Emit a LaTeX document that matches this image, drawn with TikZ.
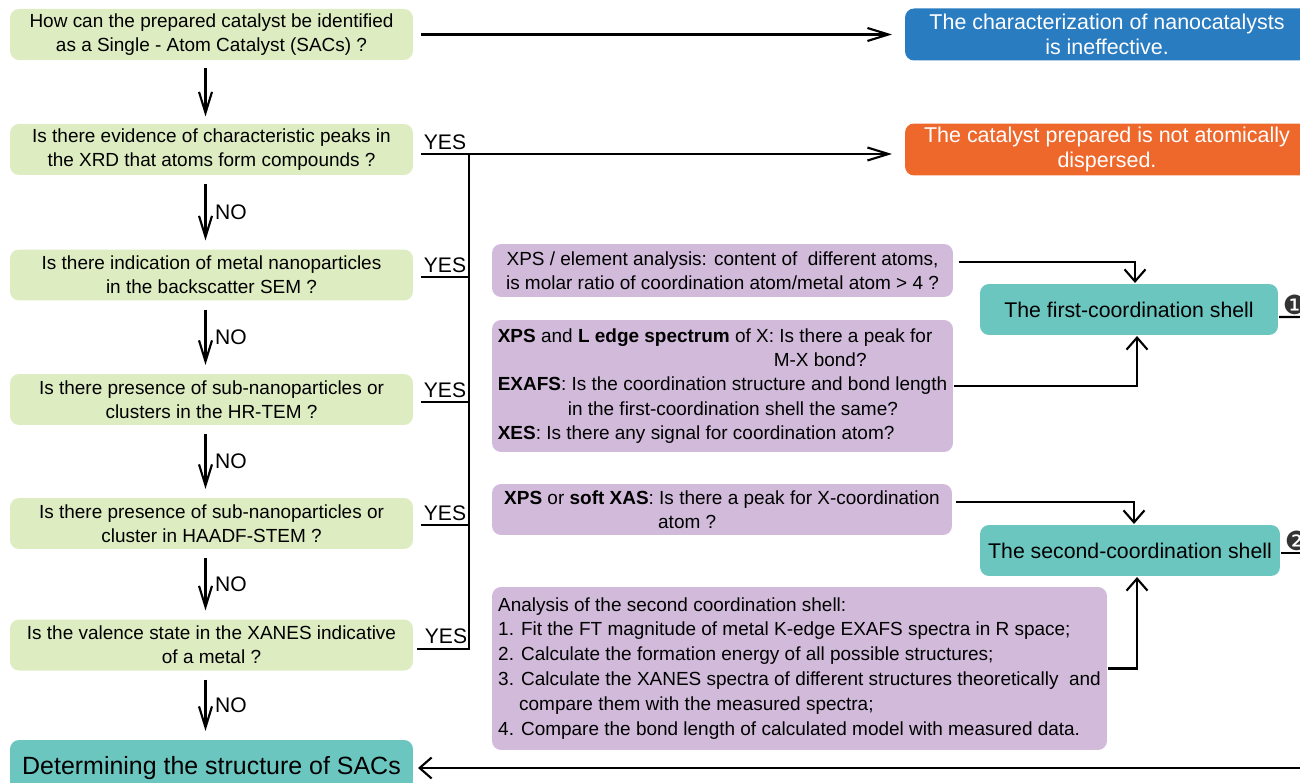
\documentclass[tikz,border=0pt]{standalone}
\usepackage{fontspec}
\setmainfont{Liberation Sans}
\newfontfamily\dingfont{DejaVu Sans}
\usetikzlibrary{arrows.meta}

\definecolor{qgreen}{RGB}{222,236,194}
\definecolor{shellteal}{RGB}{108,198,192}
\definecolor{failblue}{RGB}{42,124,193}
\definecolor{failorange}{RGB}{238,104,44}
\definecolor{probepurple}{RGB}{209,186,218}
\definecolor{markgrey}{RGB}{51,51,51}

\tikzset{
  qbox/.style={fill=qgreen, rounded corners=0.18cm, minimum width=8.06cm,
    minimum height=1.02cm, align=center, inner sep=0pt,
    font=\fontsize{10.8}{13.7}\selectfont},
  failbox/.style={rounded corners=0.18cm, minimum width=8.08cm,
    minimum height=1.04cm, align=center, inner sep=0pt, text=white,
    font=\fontsize{12.2}{14.2}\selectfont},
  probebox/.style={fill=probepurple, rounded corners=0.18cm, inner sep=0pt,
    font=\fontsize{10.8}{13.9}\selectfont},
  shellbox/.style={fill=shellteal, rounded corners=0.18cm, minimum height=1.02cm,
    inner sep=0pt, font=\fontsize{12.1}{14}\selectfont},
  answer/.style={font=\fontsize{12}{13}\selectfont, inner sep=2pt},
  longarrow/.style={->, >={Straight Barb[length=0.42cm,width=0.26cm]}, line width=1.2pt},
  shortarrow/.style={->, >={Straight Barb[length=0.24cm,width=0.42cm]}, line width=1.2pt},
}

\begin{document}
\begin{tikzpicture}[x=0.02cm, y=-0.02cm, line width=1.2pt]
  \useasboundingbox (0,0) rectangle (1300,783);
  \clip (0,0) rectangle (1300,783);

  % questions
  \node[qbox] (q1) at (211.5,34.5) {How can the prepared catalyst be identified\\as a Single - Atom Catalyst (SACs) ?};
  \node[qbox] (q2) at (211.5,149.5) {Is there evidence of characteristic peaks in\\the XRD that atoms form compounds ?};
  \node[qbox] (q3) at (211.5,275) {Is there indication of metal nanoparticles\\in the backscatter SEM ?};
  \node[qbox] (q4) at (211.5,399.5) {Is there presence of sub-nanoparticles or\\clusters in the HR-TEM ?};
  \node[qbox] (q5) at (211.5,523.5) {Is there presence of sub-nanoparticles or\\cluster in HAADF-STEM ?};
  \node[qbox] (q6) at (211.5,645) {Is the valence state in the XANES indicative\\of a metal ?};
  \node[qbox, fill=shellteal, minimum height=1.12cm, font=\fontsize{14.2}{16}\selectfont] (det) at (211.5,768) {Determining the structure of SACs};

  % outcomes
  \node[failbox, fill=failblue] (ineff) at (1107,34.5) {The characterization of nanocatalysts\\is ineffective.};
  \node[failbox, fill=failorange] (notsac) at (1107,149.5) {The catalyst prepared is not atomically\\dispersed.};

  % probes
  \node[probebox, minimum width=9.22cm, minimum height=1.06cm, align=center] (p1) at (722.5,270.5)
    {XPS / element analysis: content of\ \ different atoms,\\ is molar ratio of coordination atom/metal atom > 4 ?};
  \node[probebox, minimum width=9.22cm, minimum height=2.64cm, align=left] (p2) at (722.5,386)
    {\textbf{XPS} and \textbf{L edge spectrum} of X: Is there a peak for\\
     \hspace*{5.52cm}M-X bond?\\
     \textbf{EXAFS}: Is the coordination structure and bond length\\
     \hspace*{1.4cm}in the first-coordination shell the same?\\
     \textbf{XES}: Is there any signal for coordination atom?};
  \node[probebox, minimum width=9.2cm, minimum height=1.02cm, align=left] (p3) at (722,509.5)
    {\textbf{XPS} or \textbf{soft XAS}: Is there a peak for X-coordination\\
     \hspace*{3.08cm}atom ?};
  \node[probebox, minimum width=12.3cm, minimum height=3.26cm, align=left,
    font=\fontsize{10.8}{14.2}\selectfont] (p4) at (799.5,668.5)
    {Analysis of the second coordination shell:\\
     1. Fit the FT magnitude of metal K-edge EXAFS spectra in R space;\\
     2. Calculate the formation energy of all possible structures;\\
     3. Calculate the XANES spectra of different structures theoretically\ \ and\\
     \hspace*{0.42cm}compare them with the measured spectra;\\
     4. Compare the bond length of calculated model with measured data.};

  % shells
  \node[shellbox, minimum width=5.96cm] (shell1) at (1129,309.5) {The first-coordination shell};
  \node[shellbox, minimum width=6cm] (shell2) at (1130,550.5) {The second-coordination shell};

  % main chain
  \draw[longarrow, shorten >=0.24cm] ([xshift=0.14cm]q1.east) -- (ineff.west);
  \draw[longarrow] ([xshift=-0.12cm,yshift=-0.13cm]q1.south) -- ([xshift=-0.12cm,yshift=0.13cm]q2.north);
  \draw[longarrow] ([xshift=-0.12cm,yshift=-0.16cm]q2.south) -- node[answer, right, xshift=0.1cm] {NO} ([xshift=-0.12cm,yshift=0.16cm]q3.north);
  \draw[longarrow] ([xshift=-0.12cm,yshift=-0.16cm]q3.south) -- node[answer, right, xshift=0.1cm] {NO} ([xshift=-0.12cm,yshift=0.16cm]q4.north);
  \draw[longarrow] ([xshift=-0.12cm,yshift=-0.16cm]q4.south) -- node[answer, right, xshift=0.1cm] {NO} ([xshift=-0.12cm,yshift=0.16cm]q5.north);
  \draw[longarrow] ([xshift=-0.12cm,yshift=-0.16cm]q5.south) -- node[answer, right, xshift=0.1cm] {NO} ([xshift=-0.12cm,yshift=0.16cm]q6.north);
  \draw[longarrow] ([xshift=-0.12cm,yshift=-0.16cm]q6.south) -- node[answer, right, xshift=0.1cm] {NO} ([xshift=-0.12cm,yshift=0.16cm]det.north);

  % YES branches
  \draw ([xshift=0.14cm,yshift=-0.09cm]q2.east) -- ++(48,0) coordinate (trunktop) node[answer, midway, above] {YES};
  \draw[longarrow, shorten >=0.24cm] (trunktop) -- (trunktop -| notsac.west);
  \draw ([xshift=0.14cm,yshift=-0.04cm]q3.east) -- ++(48,0) node[answer, midway, above] {YES};
  \draw ([xshift=0.14cm,yshift=-0.05cm]q4.east) -- ++(48,0) node[answer, midway, above] {YES};
  \draw ([xshift=0.14cm,yshift=-0.03cm]q5.east) -- ++(48,0) node[answer, midway, above] {YES};
  \draw[line width=1.5pt] ([xshift=0.06cm,yshift=-0.08cm]q6.east) -- ++(52,0) node[answer, midway, above, xshift=0.06cm] {YES} |- (trunktop);

  % probes to shells
  \draw[shortarrow] ([xshift=0.1cm,yshift=0.17cm]p1.east) -| ([xshift=0.12cm]shell1.north);
  \draw[shortarrow] (p2.east) -| ([xshift=0.16cm]shell1.south);
  \draw[shortarrow] ([xshift=0.06cm,yshift=0.15cm]p3.east) -| ([xshift=0.08cm]shell2.north);
  \draw[shortarrow] (p4.east) -| ([xshift=0.14cm]shell2.south);

  % shells to result
  \coordinate (rimtop) at (1320,317);
  \draw ([yshift=-0.15cm]shell1.east) -- (rimtop);
  \draw ([yshift=-0.05cm]shell2.east) -- ++(40,0);
  \draw[shortarrow, shorten >=0.08cm] (rimtop) |- (det.east);
  \node[anchor=south west, inner sep=0.5pt, text=markgrey, font=\dingfont\fontsize{15}{15}\selectfont] (mark1) at (1281,317) {❶};
  \node[anchor=south west, inner sep=0.5pt, text=markgrey, font=\dingfont\fontsize{15}{15}\selectfont] (mark2) at (1283,553) {❷};
\end{tikzpicture}
\end{document}
